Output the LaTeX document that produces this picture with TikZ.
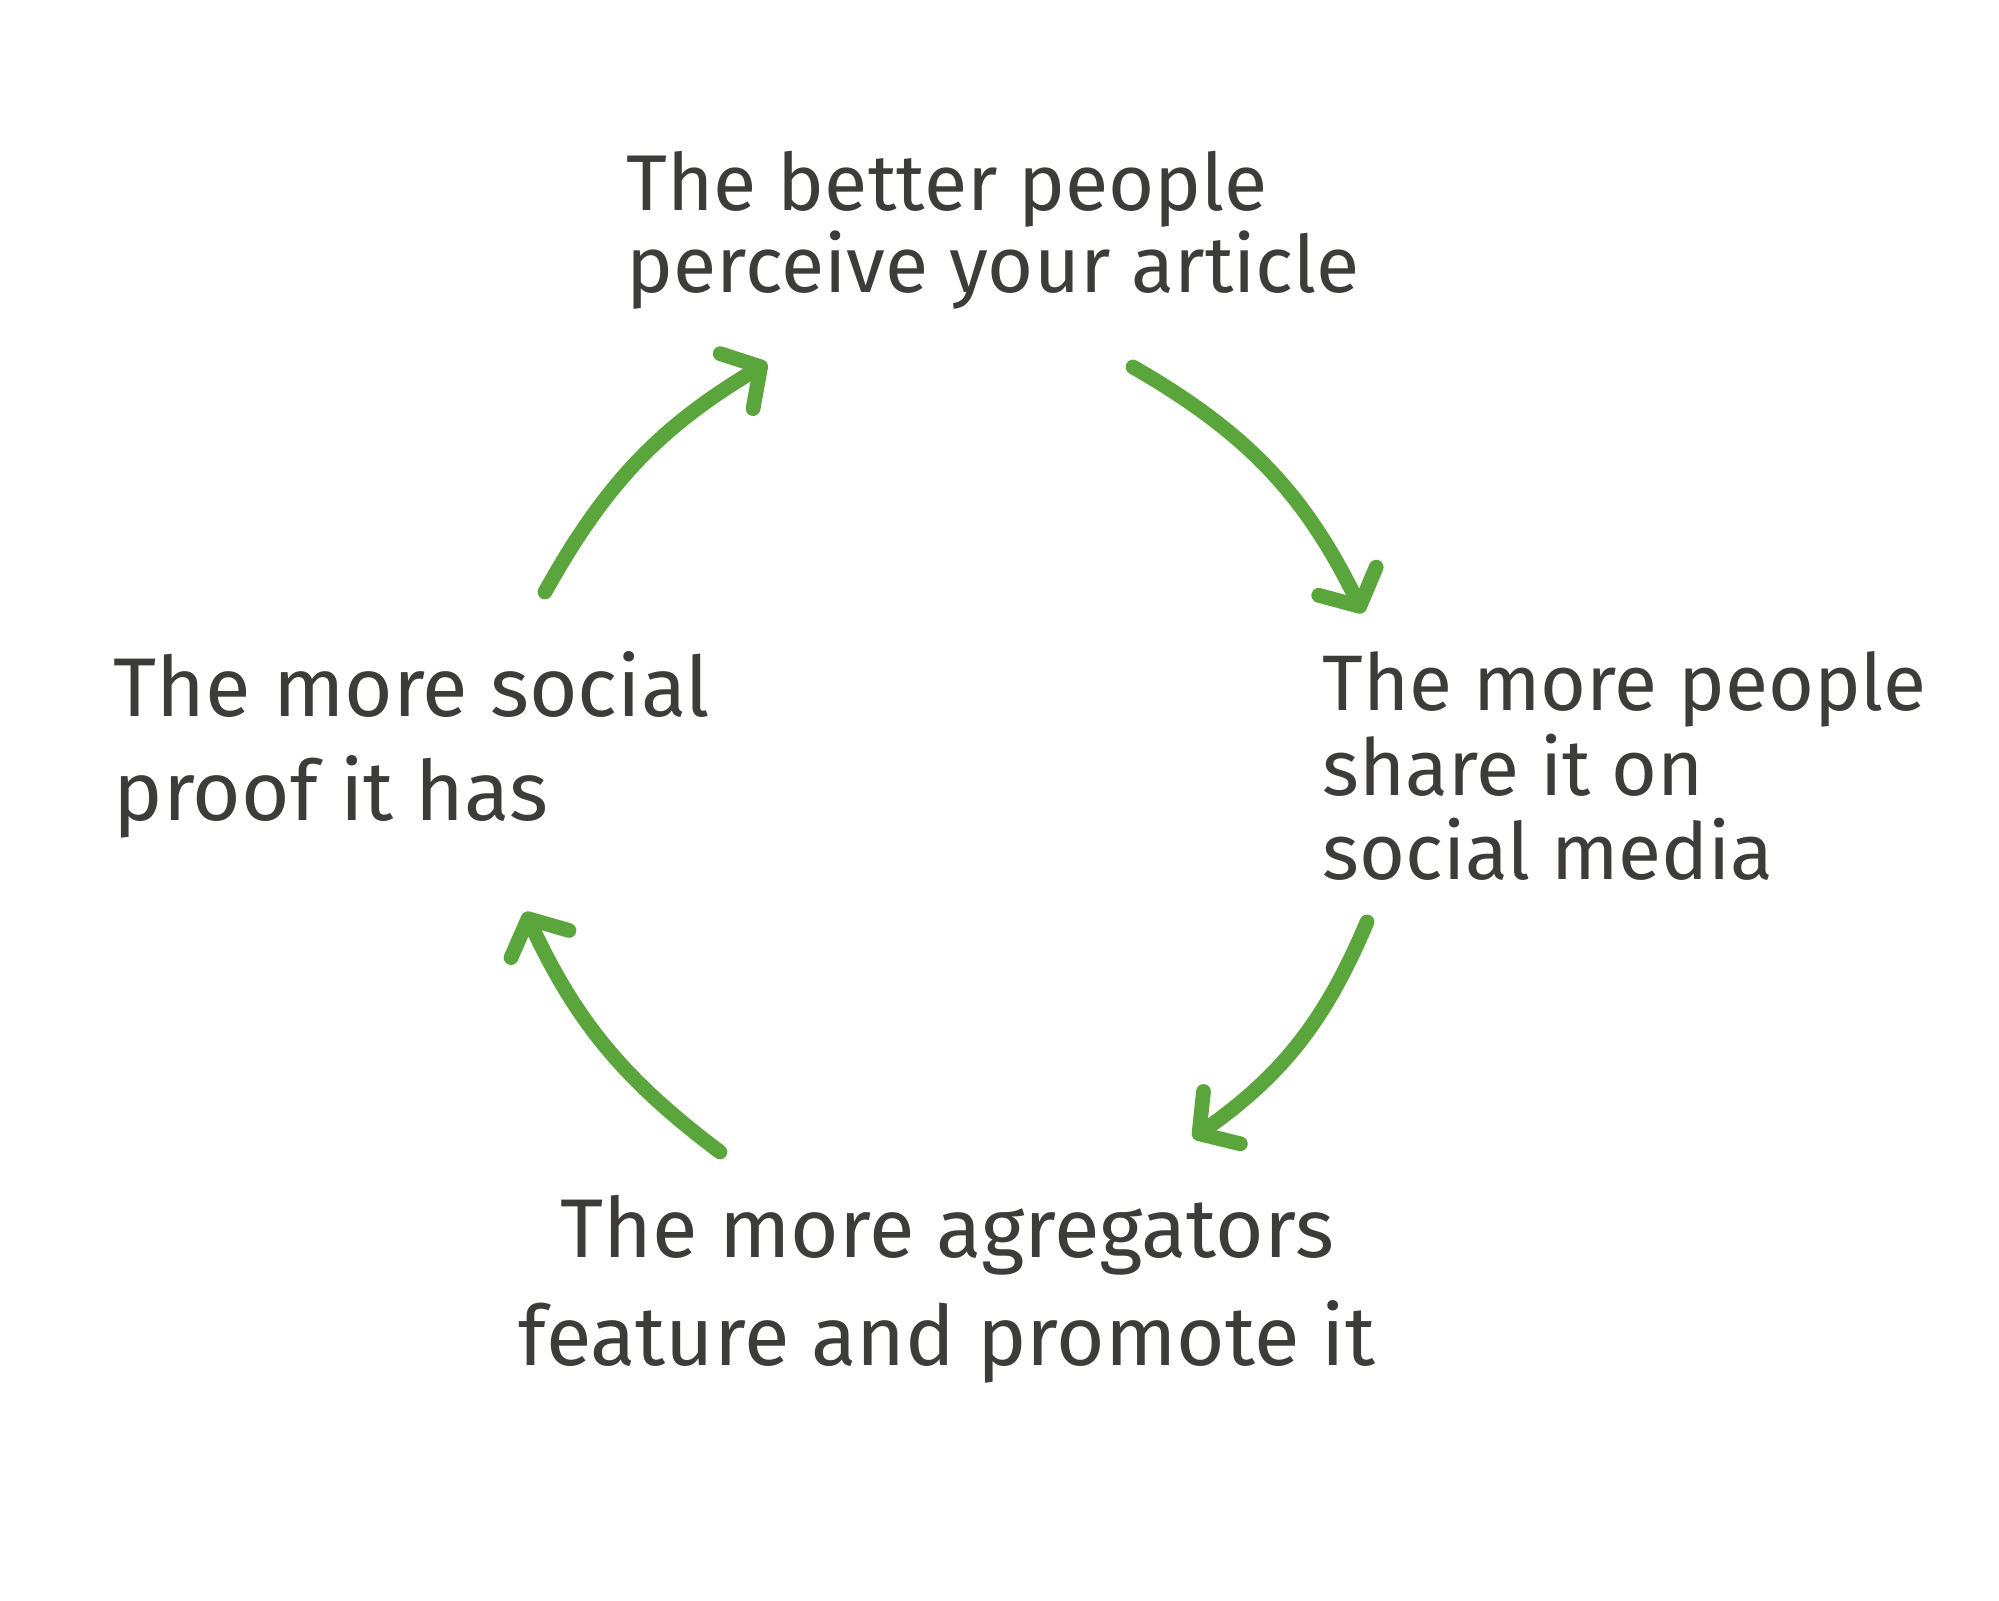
\documentclass[tikz,border=0pt]{standalone}
\usepackage{fontspec}
\setmainfont{Fira Sans}
\usepackage{xcolor}
\usetikzlibrary{arrows.meta}
\definecolor{ink}{HTML}{3E3C3A}
\definecolor{leaf}{HTML}{5AA63C}

\begin{document}
\begin{tikzpicture}[
    txt/.style={text=ink, inner sep=0pt, align=left, anchor=north west},
    arr/.style={leaf, line width=4.2pt, line cap=round,
      -{Straight Barb[length=2.8mm, width=6.4mm, round]}}]

  \fill[white] (0,0) rectangle (19.99,16.01);
  \useasboundingbox (0,0) rectangle (19.99,16.01);

  % the four steps of the loop
  \node[txt, font=\fontsize{22.5}{21.6}\selectfont] (perceive) at (6.26,14.51)
    {The better people\\ perceive your article};
  \node[txt, font=\fontsize{22.4}{24}\selectfont] (share) at (13.22,9.50)
    {The more people\\ share it on\\ social media};
  \node[txt, font=\fontsize{23.7}{30.9}\selectfont, align=center, anchor=north]
    (promote) at (9.47,4.07)
    {The more agregators\\ feature and promote it};
  \node[txt, font=\fontsize{23.7}{29.6}\selectfont] (proof) at (1.13,9.50)
    {The more social\\ proof it has};

  % arrow ends
  \coordinate (a1s) at (11.33,12.34);
  \coordinate (a1e) at (13.63,9.88);
  \coordinate (a2s) at (13.67,6.79);
  \coordinate (a2e) at (11.93,4.63);
  \coordinate (a3s) at (7.20,4.49);
  \coordinate (a3e) at (5.25,6.89);
  \coordinate (a4s) at (5.45,10.09);
  \coordinate (a4e) at (7.67,12.38);

  \draw[arr] (a1s) to[bend left=17] (a1e);
  \draw[arr] (a2s) to[bend left=16] (a2e);
  \draw[arr] (a3s) to[bend left=14] (a3e);
  \draw[arr] (a4s) to[bend left=15] (a4e);
\end{tikzpicture}
\end{document}
